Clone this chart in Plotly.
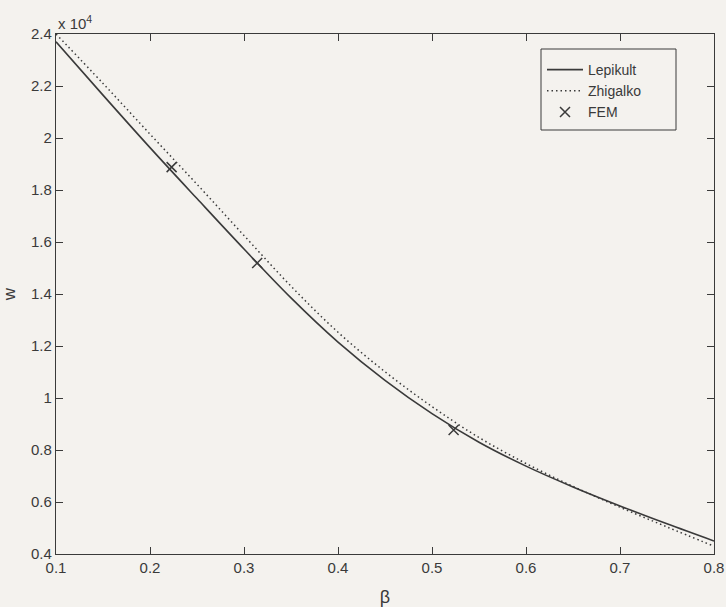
import plotly.graph_objects as go

# Data (w values in units of 10^4)
beta = [0.10, 0.15, 0.20, 0.25, 0.30, 0.35, 0.40, 0.45, 0.50, 0.55, 0.60, 0.65, 0.70, 0.75, 0.80]
w_lepikult = [2.370, 2.165, 1.963, 1.767, 1.573, 1.385, 1.215, 1.068, 0.940, 0.830, 0.738, 0.658, 0.585, 0.516, 0.450]
w_zhigalko = [2.400, 2.210, 2.015, 1.822, 1.625, 1.430, 1.253, 1.101, 0.967, 0.848, 0.748, 0.660, 0.580, 0.504, 0.430]
beta_fem = [0.223, 0.314, 0.523]
w_fem = [1.888, 1.519, 0.877]

x_ticks = [0.1, 0.2, 0.3, 0.4, 0.5, 0.6, 0.7, 0.8]
x_ticktext = ["0.1", "0.2", "0.3", "0.4", "0.5", "0.6", "0.7", "0.8"]
y_ticks = [0.4, 0.6, 0.8, 1.0, 1.2, 1.4, 1.6, 1.8, 2.0, 2.2, 2.4]
y_ticktext = ["0.4", "0.6", "0.8", "1", "1.2", "1.4", "1.6", "1.8", "2", "2.2", "2.4"]

ink = "#3a3a3a"
bg = "#f4f2ee"
font_family = "Liberation Sans, Arial, sans-serif"

W, H = 726, 607
ML, MR, MT, MB = 56, 12, 34, 53
pw, ph = W - ML - MR, H - MT - MB

def px2paper_x(px):
    return (px - ML) / pw

def px2paper_y(py):
    return 1 - (py - MT) / ph

fig = go.Figure()
fig.add_trace(go.Scatter(x=beta, y=w_lepikult, mode="lines", name="Lepikult",
                         line=dict(color=ink, width=1.6, shape="spline")))
fig.add_trace(go.Scatter(x=beta, y=w_zhigalko, mode="lines", name="Zhigalko",
                         line=dict(color=ink, width=1.5, dash="1.5px,3px", shape="spline")))
fig.add_trace(go.Scatter(x=beta_fem, y=w_fem, mode="markers", name="FEM",
                         marker=dict(symbol="x-thin-open", size=10,
                                     line=dict(color=ink, width=1.5), color=ink)))

axis_common = dict(showgrid=False, zeroline=False, showline=True, linecolor=ink,
                   linewidth=1.2, mirror="allticks", ticks="inside", ticklen=7,
                   tickcolor=ink, tickwidth=1, automargin=False,
                   tickfont=dict(size=15, color=ink, family=font_family))

fig.update_xaxes(range=[0.1, 0.8], tickvals=x_ticks, ticktext=x_ticktext,
                 title=dict(text="β", font=dict(size=18, color=ink, family=font_family), standoff=15),
                 **axis_common)
fig.update_yaxes(range=[0.4, 2.4], tickvals=y_ticks, ticktext=y_ticktext,
                 title=dict(text="w", font=dict(size=17, color=ink, family=font_family), standoff=13),
                 **axis_common)

fig.add_annotation(text="x 10<sup>4</sup>", xref="paper", yref="paper", x=0.0, y=1.0,
                   xanchor="left", yanchor="bottom", showarrow=False, yshift=0,
                   font=dict(size=15, color=ink, family=font_family))

# legend frame
fig.add_shape(type="rect", xref="paper", yref="paper",
              x0=px2paper_x(541), x1=px2paper_x(676), y0=px2paper_y(130), y1=px2paper_y(49),
              line=dict(color=ink, width=1), fillcolor=bg, layer="above")

fig.update_layout(
    width=W, height=H,
    margin=dict(l=ML, r=MR, t=MT, b=MB, autoexpand=False),
    paper_bgcolor=bg, plot_bgcolor=bg,
    font=dict(family=font_family, color=ink),
    legend=dict(x=px2paper_x(542), y=px2paper_y(54), xanchor="left", yanchor="top",
                bgcolor="rgba(0,0,0,0)", borderwidth=0,
                font=dict(size=14, color=ink, family=font_family),
                tracegroupgap=0, itemwidth=36),
    showlegend=True,
)

fig.write_html("out.html", config={"displayModeBar": False},
               post_script="document.body.style.margin='0';document.body.style.background='#f4f2ee';document.body.style.overflow='hidden';")
